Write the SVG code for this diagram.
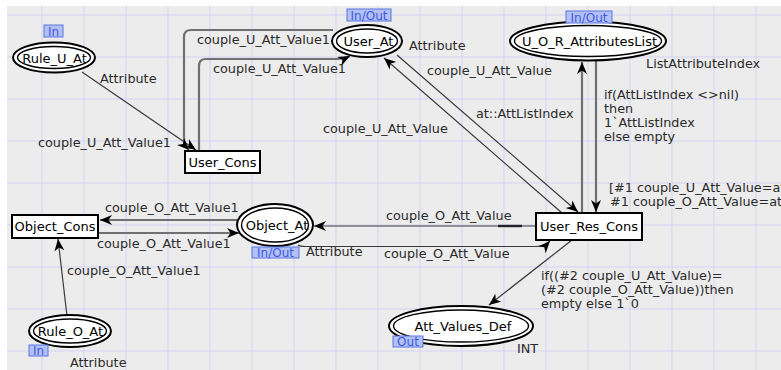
<svg xmlns="http://www.w3.org/2000/svg" width="781" height="370" viewBox="0 0 781 370">
  <style>
    .lbl { font-family: "DejaVu Sans", "Liberation Sans", sans-serif; font-size: 12.8px; fill: #2a2a2a; }
    .nt { font-family: "DejaVu Sans", "Liberation Sans", sans-serif; font-size: 13px; fill: #000; text-anchor: middle; }
    .port rect { fill: #b3c0f4; stroke: #5b74e4; stroke-width: 1; }
    .port text { font-family: "DejaVu Sans", "Liberation Sans", sans-serif; font-size: 12px; fill: #3d5be0; text-anchor: middle; }
    .outer { fill: #fff; stroke: #000; stroke-width: 2; }
    .inner { fill: #fff; stroke: #000; stroke-width: 1.4; }
    .trans { fill: #fff; stroke: #000; stroke-width: 2; }
    .thin { fill: none; stroke: #3a3a3a; stroke-width: 1.2; marker-end: url(#arr); }
    .thick { fill: none; stroke: #707070; stroke-width: 2.2; marker-end: url(#arr); }
    .grid line { stroke: #d3d3f6; stroke-width: 1; }
  </style>
  <defs>
    <marker id="arr" markerUnits="userSpaceOnUse" markerWidth="13" markerHeight="11" refX="12" refY="5" orient="auto">
      <path d="M0,0 L12,5 L0,10 L3.5,5 Z" fill="#000"/>
    </marker>
  </defs>

  <!-- canvas and grid -->
  <rect x="0" y="0" width="781" height="370" fill="#fff"/>
  <rect x="7" y="6" width="774" height="364" fill="#ececec"/>
  <g class="grid">
    <line x1="42" y1="6" x2="42" y2="370"/><line x1="84" y1="6" x2="84" y2="370"/>
    <line x1="126" y1="6" x2="126" y2="370"/><line x1="168" y1="6" x2="168" y2="370"/>
    <line x1="210" y1="6" x2="210" y2="370"/><line x1="252" y1="6" x2="252" y2="370"/>
    <line x1="294" y1="6" x2="294" y2="370"/><line x1="336" y1="6" x2="336" y2="370"/>
    <line x1="378" y1="6" x2="378" y2="370"/><line x1="420" y1="6" x2="420" y2="370"/>
    <line x1="462" y1="6" x2="462" y2="370"/><line x1="504" y1="6" x2="504" y2="370"/>
    <line x1="546" y1="6" x2="546" y2="370"/><line x1="588" y1="6" x2="588" y2="370"/>
    <line x1="630" y1="6" x2="630" y2="370"/><line x1="672" y1="6" x2="672" y2="370"/>
    <line x1="714" y1="6" x2="714" y2="370"/><line x1="756" y1="6" x2="756" y2="370"/>
    <line x1="7" y1="15" x2="781" y2="15"/><line x1="7" y1="57" x2="781" y2="57"/>
    <line x1="7" y1="99" x2="781" y2="99"/><line x1="7" y1="141" x2="781" y2="141"/>
    <line x1="7" y1="183" x2="781" y2="183"/><line x1="7" y1="225" x2="781" y2="225"/>
    <line x1="7" y1="267" x2="781" y2="267"/><line x1="7" y1="309" x2="781" y2="309"/>
    <line x1="7" y1="351" x2="781" y2="351"/>
  </g>

  <!-- arcs -->
  <g id="connectors">
    <path class="thin" d="M82,72 L196,150"/>
    <path class="thick" d="M333,30 H191 Q184,30 184,37 V140 Q184,145 189,150"/>
    <path class="thick" d="M199,151 V66 Q199,59 206,59 H338 Q344,59 350,56"/>
    <path class="thick" d="M582,213 V62"/>
    <path class="thick" d="M596,61 V212"/>
    <path class="thin" d="M397,55 L578,212"/>
    <path class="thin" d="M562,213 L384,58"/>
    <path class="thin" d="M536,226 H314"/>
    <line x1="498" y1="226" x2="522" y2="226" stroke="#222" stroke-width="2.4"/>
    <path class="thin" d="M298,245 Q300,246.5 306,246.5 H536 Q545,246.5 550,241"/>
    <path class="thick" d="M238,220 H100"/>
    <path class="thick" d="M98,233 H239"/>
    <path class="thin" d="M67,316 L58,239"/>
    <path class="thin" d="M572,240 L489,305"/>
  </g>

  <!-- arc inscriptions -->
  <g id="inscriptions">
    <text class="lbl" x="100" y="83">Attribute</text>
    <text class="lbl" x="38" y="147">couple_U_Att_Value1</text>
    <text class="lbl" x="197" y="44">couple_U_Att_Value1</text>
    <text class="lbl" x="213" y="73">couple_U_Att_Value1</text>
    <text class="lbl" x="409" y="50">Attribute</text>
    <text class="lbl" x="427" y="75">couple_U_Att_Value</text>
    <text class="lbl" x="476" y="118">at::AttListIndex</text>
    <text class="lbl" x="323" y="133">couple_U_Att_Value</text>
    <text class="lbl" x="646" y="68">ListAttributeIndex</text>
    <text class="lbl" x="604" y="99">if(AttListIndex &lt;&gt;nil)</text>
    <text class="lbl" x="604" y="113">then</text>
    <text class="lbl" x="604" y="127">1`AttListIndex</text>
    <text class="lbl" x="604" y="141">else empty</text>
    <text class="lbl" x="609" y="192">[#1 couple_U_Att_Value=at</text>
    <text class="lbl" x="610" y="206">#1 couple_O_Att_Value=at</text>
    <text class="lbl" x="386" y="220">couple_O_Att_Value</text>
    <text class="lbl" x="384" y="258">couple_O_Att_Value</text>
    <text class="lbl" x="306" y="256">Attribute</text>
    <text class="lbl" x="105" y="212">couple_O_Att_Value1</text>
    <text class="lbl" x="97" y="248">couple_O_Att_Value1</text>
    <text class="lbl" x="67" y="275">couple_O_Att_Value1</text>
    <text class="lbl" x="70" y="367">Attribute</text>
    <text class="lbl" x="541" y="280">if((#2 couple_U_Att_Value)=</text>
    <text class="lbl" x="541" y="294">(#2 couple_O_Att_Value))then</text>
    <text class="lbl" x="541" y="308">empty else 1`0</text>
    <text class="lbl" x="517" y="353">INT</text>
  </g>

  <!-- places -->
  <g id="Rule_U_At">
    <ellipse class="outer" cx="54" cy="57.5" rx="41" ry="15"/>
    <ellipse class="inner" cx="54" cy="57.5" rx="36.5" ry="11"/>
    <text class="nt" x="54.5" y="62.5">Rule_U_At</text>
    <g class="port"><rect x="44" y="25" width="19" height="12"/><text x="53.5" y="35.5">In</text></g>
  </g>
  <g id="User_At">
    <ellipse class="outer" cx="367" cy="41" rx="35" ry="16"/>
    <ellipse class="inner" cx="367" cy="41" rx="30.5" ry="12"/>
    <text class="nt" x="368.5" y="45.5">User_At</text>
    <g class="port"><rect x="347" y="9" width="44" height="12"/><text x="369" y="19.5">In/Out</text></g>
  </g>
  <g id="U_O_R_AttributesList">
    <ellipse class="outer" cx="588" cy="41" rx="78" ry="19.5"/>
    <ellipse class="inner" cx="588" cy="41" rx="73.5" ry="15.5"/>
    <text class="nt" x="589.5" y="45.5">U_O_R_AttributesList</text>
    <g class="port"><rect x="566" y="11" width="46" height="12"/><text x="589" y="21.5">In/Out</text></g>
  </g>
  <g id="Object_At">
    <ellipse class="outer" cx="275" cy="225" rx="38" ry="21"/>
    <ellipse class="inner" cx="275" cy="225" rx="33.5" ry="17"/>
    <text class="nt" x="277" y="230">Object_At</text>
    <g class="port"><rect x="252" y="247" width="47" height="11"/><text x="275.5" y="257">In/Out</text></g>
  </g>
  <g id="Att_Values_Def">
    <ellipse class="outer" cx="461" cy="326" rx="72" ry="20"/>
    <ellipse class="inner" cx="461" cy="326" rx="67.5" ry="16"/>
    <text class="nt" x="463" y="330.5">Att_Values_Def</text>
    <g class="port"><rect x="393" y="336" width="30" height="11"/><text x="408" y="346">Out</text></g>
  </g>
  <g id="Rule_O_At">
    <ellipse class="outer" cx="70" cy="331" rx="41" ry="16"/>
    <ellipse class="inner" cx="70" cy="331" rx="36.5" ry="12"/>
    <text class="nt" x="70.5" y="336">Rule_O_At</text>
    <g class="port"><rect x="29" y="345" width="19" height="11"/><text x="38.5" y="355">In</text></g>
  </g>

  <!-- transitions -->
  <g id="User_Cons">
    <rect class="trans" x="185" y="151" width="75" height="22"/>
    <text class="nt" x="222.5" y="167">User_Cons</text>
  </g>
  <g id="Object_Cons">
    <rect class="trans" x="12" y="215" width="86" height="23"/>
    <text class="nt" x="55" y="231">Object_Cons</text>
  </g>
  <g id="User_Res_Cons">
    <rect class="trans" x="536" y="213" width="106" height="27"/>
    <text class="nt" x="589" y="231">User_Res_Cons</text>
  </g>
</svg>
